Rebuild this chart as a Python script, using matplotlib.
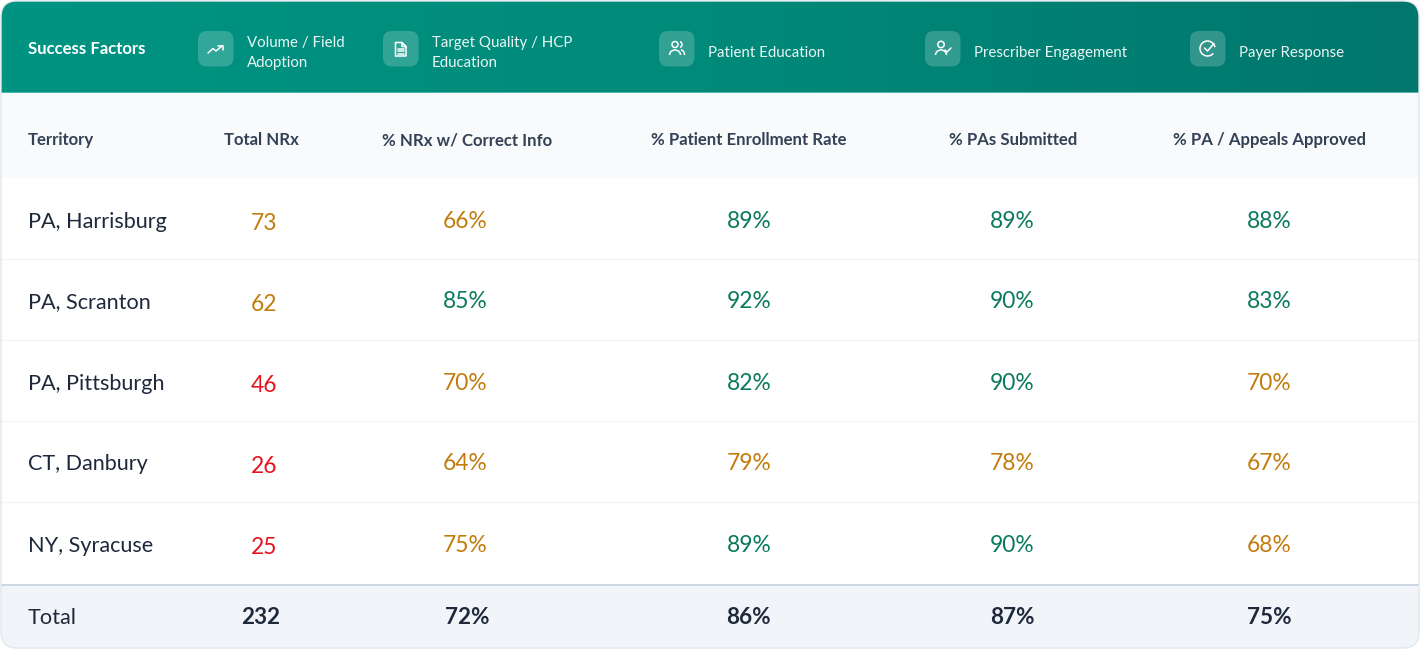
import numpy as np
import matplotlib
matplotlib.use("Agg")
import matplotlib.pyplot as plt
from matplotlib.patches import Circle, Arc, FancyBboxPatch, Rectangle

plt.rcParams["font.family"] = ["Lato", "Carlito", "Open Sans", "DejaVu Sans"]

territories = ["PA, Harrisburg", "PA, Scranton", "PA, Pittsburgh", "CT, Danbury", "NY, Syracuse"]
columns = ["Territory", "Total NRx", "% NRx w/ Correct Info", "% Patient Enrollment Rate",
           "% PAs Submitted", "% PA / Appeals Approved"]
total_nrx = [73, 62, 46, 26, 25]
correct_info = [66, 85, 70, 64, 75]
enrollment = [89, 92, 82, 79, 89]
pas_submitted = [89, 90, 90, 78, 90]
pa_approved = [88, 83, 70, 67, 68]
totals = ["232", "72%", "86%", "87%", "75%"]
factors = ["Volume / Field\nAdoption", "Target Quality / HCP\nEducation", "Patient Education",
           "Prescriber Engagement", "Payer Response"]

W, H = 1420, 649
AMBER = "#c27c0e"
GREEN = "#0b7a5c"
RED = "#e5141e"
DARK = "#1e293b"
HEAD = "#334155"

fig = plt.figure(figsize=(W / 100, H / 100), dpi=100)
ax = fig.add_axes([0, 0, 1, 1])
ax.set_xlim(0, W)
ax.set_ylim(H, 0)
ax.axis("off")


def card(x0, y0, x1, y1, **kw):
    return FancyBboxPatch((x0 + 16, y0 + 16), x1 - x0 - 32, y1 - y0 - 32,
                          boxstyle="round,pad=16,rounding_size=16", **kw)


# card background, the bands get clipped to it
outline = card(1, 1, 1419, 648, fc="white", ec="none", zorder=1)
ax.add_patch(outline)

grad = np.linspace(0, 1, 500).reshape(1, -1)
cmap = matplotlib.colors.LinearSegmentedColormap.from_list("hdr", ["#009482", "#008a7a", "#00766c"])
im = ax.imshow(grad, extent=(1, 1419, 92, 1), cmap=cmap, aspect="auto", zorder=2)
im.set_clip_path(outline)
ax.set_xlim(0, W)
ax.set_ylim(H, 0)

ax.add_patch(Rectangle((1, 92), 1418, 1.2, fc="#4fb3a8", ec="none", zorder=3))
ax.add_patch(Rectangle((1, 93), 1418, 84.5, fc="#f8fafc", ec="none", zorder=2))
foot = Rectangle((1, 585), 1418, 64, fc="#f1f5f9", ec="none", zorder=2)
ax.add_patch(foot)
foot.set_clip_path(outline)
ax.add_patch(Rectangle((1, 583.5), 1418, 2, fc="#cbd8e3", ec="none", zorder=3))
for y in [259, 340, 421, 502]:
    ax.plot([1, 1419], [y, y], color="#f3f5f9", lw=1, zorder=2)

ax.add_patch(card(1, 1, 1419, 648, fc="none", ec="#dfe7f0", lw=1, zorder=4))

# success factors strip
ax.text(28, 53.5, "Success Factors", color="white", fontsize=12.1, fontweight="bold",
        va="baseline", ha="left", zorder=5)

icon_x = [198, 383, 659, 925, 1190]
icon_w = [35.5, 35.5, 35.5, 35.5, 35.5]
label_x = [247, 432, 708.5, 974, 1239]
for fx, fw, lx, name in zip(icon_x, icon_w, label_x, factors):
    ax.add_patch(FancyBboxPatch((fx + 9, 31 + 9), fw - 18, 35.5 - 18,
                                boxstyle="round,pad=9,rounding_size=9",
                                fc="white", alpha=0.2, ec="none", zorder=5))
    if "\n" in name:
        first, second = name.split("\n")
        ax.text(lx, 47, first, color="#e9f6f4", fontsize=10.8, va="baseline", zorder=5)
        ax.text(lx, 67, second, color="#e9f6f4", fontsize=10.8, va="baseline", zorder=5)
    else:
        ax.text(lx, 57, name, color="#e9f6f4", fontsize=10.8, va="baseline", zorder=5)

ik = dict(color="white", lw=1.1, zorder=6, solid_capstyle="round", solid_joinstyle="round")
# trend arrow
ax.plot([208, 213, 216, 222.5], [53, 48.5, 51, 45.5], **ik)
ax.plot([218, 222.5, 222.5], [45.5, 45.5, 50], **ik)
# document
ax.plot([402, 395.5, 395.5, 406, 406, 402, 402, 406], [42.5, 42.5, 56, 56, 46.5, 42.5, 46.5, 46.5], **ik)
for y in [48.5, 51, 53.5]:
    ax.plot([398, 403.5], [y, y], **ik)
# two people
ax.add_patch(Circle((675, 44.5), 3, fc="none", ec="white", lw=1.1, zorder=6))
ax.add_patch(Arc((675, 55), 11, 10, theta1=180, theta2=360, ec="white", lw=1.1, zorder=6))
ax.add_patch(Arc((679, 44.5), 6, 6, theta1=-70, theta2=70, ec="white", lw=1.1, zorder=6))
ax.add_patch(Arc((681, 55), 7, 10, theta1=270, theta2=360, ec="white", lw=1.1, zorder=6))
# person with check
ax.add_patch(Circle((941, 44.5), 3.2, fc="none", ec="white", lw=1.1, zorder=6))
ax.add_patch(Arc((941, 55), 11, 10, theta1=180, theta2=360, ec="white", lw=1.1, zorder=6))
ax.plot([945, 947, 951], [50, 52, 48], **ik)
# circled check
ax.add_patch(Arc((1207.5, 48.5), 15, 15, theta1=-320, theta2=-10, ec="white", lw=1.1, zorder=6))
ax.plot([1204.5, 1207.5, 1214], [48, 51, 43.5], **ik)

# column header row
col_x = [28, 261, 467.5, 749, 1013, 1269.5]
for i, (cx, name) in enumerate(zip(col_x, columns)):
    ax.text(cx, 145, name, color=HEAD, fontsize=12.1, fontweight="bold",
            va="baseline", ha="left" if i == 0 else "center", zorder=5)

# body rows
row_y = [227.5, 308.5, 389.5, 470.5, 551.5]
val_x = [465.5, 749.5, 1012, 1269.5]
for i, y in enumerate(row_y):
    ax.text(28, y, territories[i], color=DARK, fontsize=15.6, va="baseline", ha="left", zorder=5)
    nrx = total_nrx[i]
    ax.text(264, y + 2.5, str(nrx), color=AMBER if nrx >= 50 else RED, fontsize=16.4,
            va="baseline", ha="center", zorder=5)
    for cx, vals in zip(val_x, [correct_info, enrollment, pas_submitted, pa_approved]):
        v = vals[i]
        ax.text(cx, y, f"{v}%", color=GREEN if v >= 80 else AMBER, fontsize=16.4,
                va="baseline", ha="center", zorder=5)

# total row
ax.text(28, 624.5, "Total", color=DARK, fontsize=15.6, va="baseline", ha="left", zorder=5)
for cx, t in zip(col_x[1:], totals):
    ax.text(cx - 0.5, 624.5, t, color=DARK, fontsize=16.2, fontweight="bold",
            va="baseline", ha="center", zorder=5)

fig.savefig("out.png", dpi=100, facecolor="white")
